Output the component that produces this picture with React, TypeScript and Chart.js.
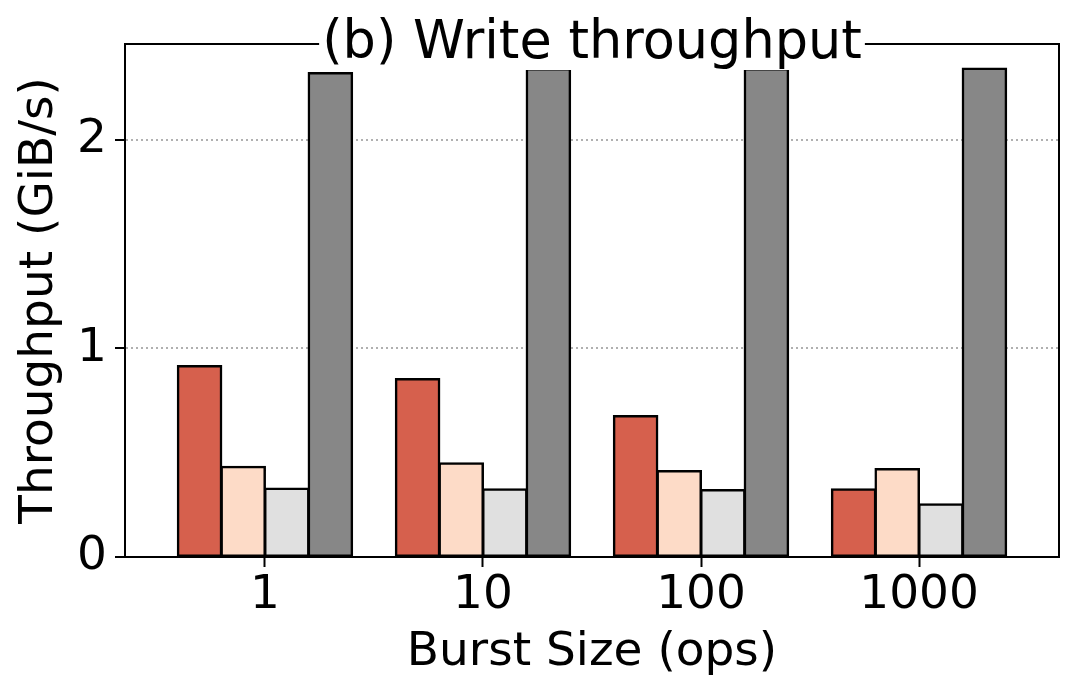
import React, { useEffect, useRef } from "react";
import { Chart, registerables } from "chart.js";

Chart.register(...registerables);

const burstSizes = ["1", "10", "100", "1000"];
const seriesRed = [0.916, 0.854, 0.676, 0.325];
const seriesPeach = [0.433, 0.449, 0.412, 0.422];
const seriesLight = [0.329, 0.325, 0.321, 0.253];
const seriesDark = [2.321, 2.34, 2.34, 2.342];
const yTickValues = [0, 1, 2];
const titleText = "(b) Write throughput";
const xTitle = "Burst Size (ops)";
const yTitle = "Throughput (GiB/s)";

const FONT = '"DejaVu Sans", "Liberation Sans", sans-serif';

const framePlugin = {
  id: "frameAndTitle",
  afterDatasetsDraw(chart: any) {
    const { ctx, chartArea } = chart;
    const { left, right, top, bottom } = chartArea;
    ctx.save();
    ctx.strokeStyle = "#000";
    ctx.lineWidth = 2;
    ctx.beginPath();
    ctx.moveTo(left - 1, top);
    ctx.lineTo(right, top);
    ctx.lineTo(right, bottom + 1);
    ctx.stroke();
    ctx.restore();
  },
  afterDraw(chart: any) {
    const { ctx, chartArea } = chart;
    ctx.save();
    ctx.font = `52.5px ${FONT}`;
    const cx = (chartArea.left + chartArea.right) / 2;
    const w = ctx.measureText(titleText).width;
    ctx.fillStyle = "#fff";
    ctx.fillRect(cx - w / 2 - 3, 12, w + 6, 58);
    ctx.fillStyle = "#000";
    ctx.textAlign = "center";
    ctx.textBaseline = "alphabetic";
    ctx.fillText(titleText, cx, 58);
    ctx.restore();
  },
};

export default function App() {
  const canvasRef = useRef<HTMLCanvasElement | null>(null);

  useEffect(() => {
    if (!canvasRef.current) return;
    const mk = (vals: number[]) => vals.map((v, i) => ({ x: i, y: v }));
    const common = {
      borderColor: "#000",
      borderWidth: 2.5,
      borderSkipped: false as any,
      inflateAmount: 1,
      categoryPercentage: 0.8,
      barPercentage: 1.0,
    };
    const chart = new Chart(canvasRef.current, {
      type: "bar",
      data: {
        datasets: [
          { label: "A", data: mk(seriesRed), backgroundColor: "#d6604d", ...common },
          { label: "B", data: mk(seriesPeach), backgroundColor: "#fddbc7", ...common },
          { label: "C", data: mk(seriesLight), backgroundColor: "#e0e0e0", ...common },
          { label: "D", data: mk(seriesDark), backgroundColor: "#878787", ...common },
        ],
      },
      options: {
        animation: false,
        responsive: false,
        events: [],
        layout: { padding: { top: 44, right: 20, left: 0, bottom: 0 } },
        plugins: {
          legend: { display: false },
          tooltip: { enabled: false },
          title: { display: false },
        },
        scales: {
          x: {
            type: "linear",
            min: -0.642,
            max: 3.642,
            offset: false,
            afterBuildTicks: (scale: any) => {
              scale.ticks = burstSizes.map((_, i) => ({ value: i }));
            },
            afterFit: (scale: any) => {
              scale.height = 141;
            },
            ticks: {
              color: "#000",
              font: { family: FONT, size: 47 },
              padding: 1,
              maxRotation: 0,
              autoSkip: false,
              callback: (v: any) => burstSizes[Number(v)] ?? "",
            },
            grid: {
              offset: false,
              drawOnChartArea: false,
              drawTicks: true,
              tickLength: 10,
              tickWidth: 2,
              tickColor: "#000",
            },
            border: { display: true, color: "#000", width: 2 },
            title: {
              display: true,
              text: xTitle,
              color: "#000",
              font: { family: FONT, size: 47 },
              padding: { top: 0, bottom: 17 },
            },
          },
          y: {
            type: "linear",
            min: 0,
            max: 2.46,
            afterBuildTicks: (scale: any) => {
              scale.ticks = yTickValues.map((v) => ({ value: v }));
            },
            afterFit: (scale: any) => {
              scale.width = 125;
            },
            ticks: {
              color: "#000",
              font: { family: FONT, size: 47 },
              padding: 8,
              callback: (v: any) => String(v),
            },
            grid: {
              color: (ctx: any) => (ctx.tick && ctx.tick.value === 0 ? "rgba(0,0,0,0)" : "#b0b0b0"),
              lineWidth: 2,
              drawTicks: true,
              tickLength: 10,
              tickWidth: 2,
              tickColor: "#000",
              tickBorderDash: [],
            },
            border: { display: true, color: "#000", width: 2, dash: [2, 3] },
            title: {
              display: true,
              text: yTitle,
              color: "#000",
              font: { family: FONT, size: 47 },
              padding: { top: 12, bottom: 0 },
            },
          },
        },
      },
      plugins: [framePlugin],
    } as any);
    return () => chart.destroy();
  }, []);

  return (
    <div style={{ position: "absolute", left: 0, top: 0, width: 1079, height: 698, background: "#fff" }}>
      <canvas ref={canvasRef} width={1079} height={698} style={{ width: 1079, height: 698, display: "block" }} />
    </div>
  );
}
